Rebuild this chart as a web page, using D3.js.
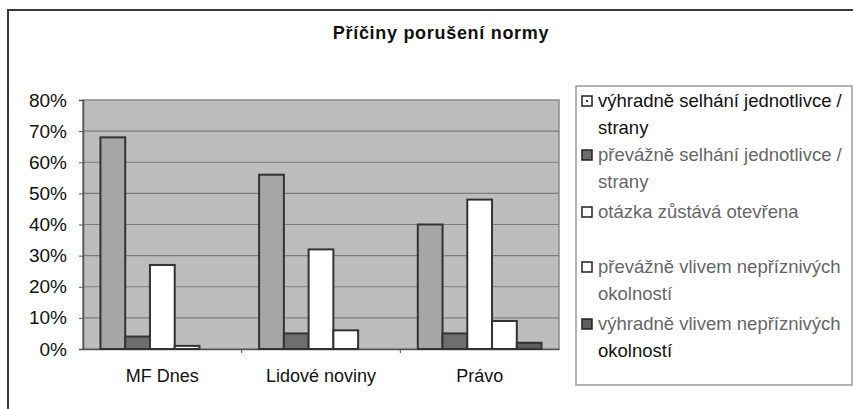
<!DOCTYPE html>
<html><head><meta charset="utf-8">
<script src="https://cdn.jsdelivr.net/npm/d3@7"></script>
<style>
html,body{margin:0;padding:0;background:#fff;}
svg{display:block;font-family:"Liberation Sans",Arial,Helvetica,sans-serif;}
</style></head>
<body><svg id="c" width="853" height="409"></svg>
<script>
const title = "Příčiny porušení normy";
const categories = ["MF Dnes", "Lidové noviny", "Právo"];
const seriesNames = [
  "výhradně selhání jednotlivce / strany",
  "převážně selhání jednotlivce / strany",
  "otázka zůstává otevřena",
  "převážně vlivem nepříznivých okolností",
  "výhradně vlivem nepříznivých okolností"
];
const legendLines = [
  ["výhradně selhání jednotlivce /", "strany"],
  ["převážně selhání jednotlivce /", "strany"],
  ["otázka zůstává otevřena"],
  ["převážně vlivem nepříznivých", "okolností"],
  ["výhradně vlivem nepříznivých", "okolností"]
];
// values per series, one per category (fraction)
const s1 = [0.68, 0.56, 0.40];
const s2 = [0.04, 0.05, 0.05];
const s3 = [0.27, 0.32, 0.48];
const s4 = [0.01, 0.06, 0.09];
const s5 = [0.00, 0.00, 0.02];
const seriesValues = [s1, s2, s3, s4, s5];
const yTicks = [0, 0.1, 0.2, 0.3, 0.4, 0.5, 0.6, 0.7, 0.8];

const fills = ["#a6a6a6", "#6e6e6e", "#ffffff", "#ffffff", "#5e5e5e"];
const legendFills = ["#ffffff", "#6e6e6e", "#ffffff", "#ffffff", "#5e5e5e"];
const legendTextColors = [["#111","#111"],["#666","#666"],["#666"],["#666","#666"],["#666","#111"]];

const svg = d3.select("#c");
const P = {l: 83, r: 559, t: 100, b: 349};

// outer frame
svg.append("rect").attr("x", 8).attr("y", 10).attr("width", 900).attr("height", 500)
  .attr("fill", "#fff").attr("stroke", "#3a3a3a").attr("stroke-width", 2);

// title
svg.append("text").attr("x", 441).attr("y", 39).attr("text-anchor", "middle")
  .attr("font-size", 18).attr("font-weight", "bold").attr("letter-spacing", 0.7)
  .attr("fill", "#111").text(title);

const x0 = d3.scaleBand().domain(categories).range([P.l, P.r]).padding(0);
const bw = x0.bandwidth();
const x1 = d3.scaleBand().domain(d3.range(seriesNames.length)).range([bw*0.11, bw*0.89]).padding(0);
const y = d3.scaleLinear().domain([0, 0.8]).range([P.b, P.t]);

// plot background
svg.append("rect").attr("x", P.l).attr("y", P.t).attr("width", P.r - P.l).attr("height", P.b - P.t)
  .attr("fill", "#bdbdbd").attr("stroke", "#8a8a8a").attr("stroke-width", 1.5);

// gridlines
svg.append("g").selectAll("line").data(yTicks.slice(1, -1)).join("line")
  .attr("x1", P.l).attr("x2", P.r).attr("y1", d => y(d)).attr("y2", d => y(d))
  .attr("stroke", "#7c7c7c").attr("stroke-width", 1.2);

// y axis
const yAxis = d3.axisLeft(y).tickValues(yTicks).tickFormat(d3.format(".0%")).tickSize(4).tickPadding(12);
const gy = svg.append("g").attr("transform", `translate(${P.l},0)`).call(yAxis);
gy.select(".domain").attr("stroke", "#555").attr("stroke-width", 1.5);
gy.selectAll(".tick line").attr("stroke", "#555");
gy.selectAll("text").attr("font-size", 19).attr("fill", "#111")
  .attr("font-family", "Liberation Sans, Arial, sans-serif");

// x axis
const xAxis = d3.axisBottom(x0).tickSize(0).tickPadding(20);
const gx = svg.append("g").attr("transform", `translate(0,${P.b})`).call(xAxis);
gx.select(".domain").attr("stroke", "#555").attr("stroke-width", 1.5);
gx.selectAll("text").attr("font-size", 18).attr("fill", "#111")
  .attr("font-family", "Liberation Sans, Arial, sans-serif");
// category separators
svg.append("g").selectAll("line").data(categories.slice(1)).join("line")
  .attr("x1", d => x0(d)).attr("x2", d => x0(d)).attr("y1", P.b).attr("y2", P.b + 4)
  .attr("stroke", "#555");

// bars
const groups = svg.append("g").selectAll("g").data(categories).join("g")
  .attr("transform", d => `translate(${x0(d)},0)`);
groups.selectAll("rect").data((c, ci) => seriesValues.map((vals, si) => ({si, v: vals[ci]})))
  .join("rect")
  .filter(d => d.v > 0)
  .attr("x", d => x1(d.si)).attr("width", x1.bandwidth())
  .attr("y", d => y(d.v)).attr("height", d => y(0) - y(d.v))
  .attr("fill", d => fills[d.si]).attr("stroke", "#333").attr("stroke-width", 2);

// legend
svg.append("rect").attr("x", 576).attr("y", 86).attr("width", 276).attr("height", 299)
  .attr("fill", "#fff").attr("stroke", "#9a9a9a").attr("stroke-width", 1.5);
const itemY = [101, 155, 212, 267, 324];
const lg = svg.append("g").selectAll("g").data(seriesNames).join("g")
  .attr("transform", (d, i) => `translate(582,${itemY[i]})`);
lg.append("rect").attr("x", 0).attr("y", -5).attr("width", 10).attr("height", 10)
  .attr("fill", (d, i) => legendFills[i]).attr("stroke", "#222").attr("stroke-width", 1.5);
lg.filter((d, i) => i === 0).append("rect").attr("x", 4).attr("y", -1).attr("width", 2).attr("height", 2).attr("fill", "#333");
lg.each(function(d, i) {
  const t = d3.select(this).append("text").attr("x", 16).attr("y", 6).attr("font-size", 18.5);
  legendLines[i].forEach((line, j) => {
    t.append("tspan").attr("x", 16).attr("dy", j === 0 ? 0 : 27)
      .attr("fill", legendTextColors[i][j]).text(line);
  });
});
</script></body></html>
